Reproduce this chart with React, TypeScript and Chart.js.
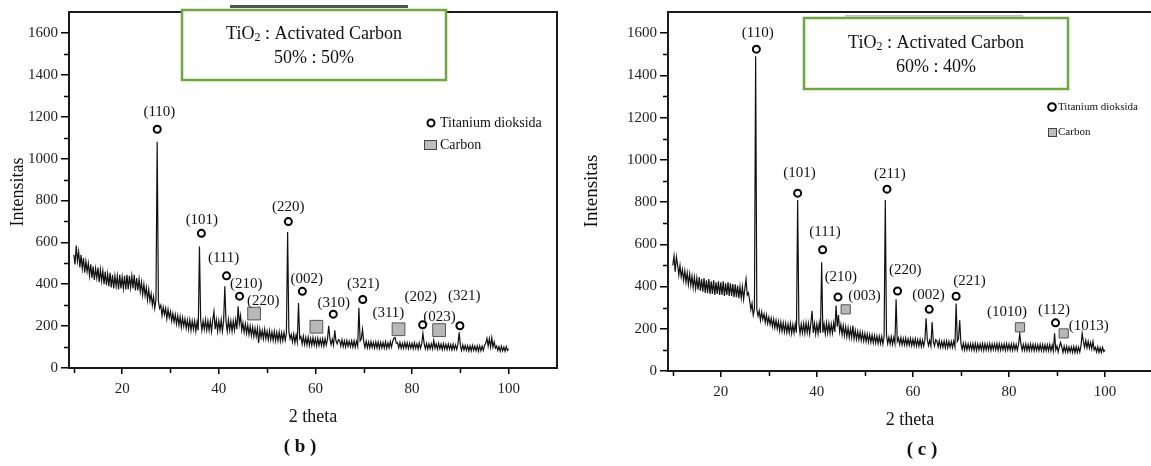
import React, { useEffect, useRef } from "react";
import { Chart, registerables } from "chart.js";

Chart.register(...registerables);

const FAMILY = '"Liberation Serif", "Times New Roman", serif';

// Diffraction scans: 2θ from X_START in steps of X_STEP
const X_START = 10;
const X_STEP = 0.25;

// (b) TiO2 : Activated Carbon 50% : 50%
const LEFT_Y = [
  540, 495, 585, 510,
  555, 480, 540, 475,
  525, 455, 510, 460,
  500, 440, 495, 430,
  485, 420, 475, 430,
  480, 410, 470, 415,
  465, 400, 460, 395,
  450, 390, 455, 385,
  445, 380, 440, 390,
  440, 375, 445, 380,
  435, 380, 440, 375,
  445, 375, 440, 385,
  440, 380, 445, 370,
  430, 370, 425, 365,
  410, 350, 400, 345,
  385, 325, 375, 320,
  355, 300, 340, 285,
  325, 1080, 320, 285,
  300, 250, 290, 255,
  285, 235, 280, 240,
  270, 225, 260, 220,
  255, 210, 250, 205,
  245, 195, 240, 200,
  235, 190, 230, 185,
  230, 180, 225, 185,
  225, 175, 220, 180,
  580, 230, 180, 225,
  185, 230, 180, 225,
  180, 225, 175, 230,
  270, 185, 230, 175,
  225, 180, 230, 175,
  225, 390, 220, 175,
  230, 180, 225, 175,
  225, 180, 230, 185,
  295, 210, 250, 180,
  215, 170, 210, 165,
  205, 160, 200, 155,
  195, 150, 190, 150,
  190, 120, 185, 145,
  180, 140, 185, 140,
  175, 135, 178, 135,
  172, 132, 175, 130,
  170, 130, 172, 128,
  168, 130, 170, 132,
  165, 650, 175, 140,
  160, 125, 162, 120,
  158, 125, 310, 140,
  150, 115, 152, 112,
  145, 110, 148, 108,
  142, 108, 145, 110,
  140, 105, 142, 108,
  138, 108, 140, 105,
  140, 110, 138, 202,
  140, 112, 138, 110,
  180, 130, 115, 135,
  132, 105, 135, 102,
  130, 100, 132, 104,
  128, 102, 130, 100,
  130, 100, 128, 104,
  288, 130, 140, 185,
  125, 98, 128, 96,
  124, 96, 126, 98,
  122, 95, 125, 96,
  124, 94, 122, 96,
  122, 95, 125, 94,
  120, 96, 126, 100,
  128, 142, 145, 118,
  120, 95, 122, 94,
  118, 94, 122, 95,
  120, 92, 118, 95,
  118, 92, 121, 94,
  116, 90, 120, 94,
  115, 165, 118, 92,
  117, 90, 115, 92,
  116, 92, 132, 95,
  115, 90, 118, 92,
  114, 88, 116, 90,
  113, 88, 115, 90,
  112, 86, 114, 88,
  110, 88, 114, 170,
  108, 84, 110, 86,
  108, 84, 106, 82,
  106, 82, 108, 84,
  105, 82, 106, 80,
  106, 82, 104, 84,
  108, 118, 142, 105,
  140, 100, 145, 100,
  125, 95, 105, 84,
  102, 80, 104, 82,
  100, 80, 102, 84,
  92,
];

// (c) TiO2 : Activated Carbon 60% : 40%
const RIGHT_Y = [
  500, 545, 470, 540,
  505, 455, 500, 445,
  480, 430, 475, 420,
  465, 410, 460, 405,
  450, 395, 445, 390,
  440, 385, 445, 380,
  435, 375, 440, 370,
  430, 370, 435, 365,
  425, 365, 430, 360,
  420, 365, 425, 360,
  420, 360, 425, 355,
  415, 360, 420, 355,
  415, 355, 412, 350,
  410, 350, 405, 345,
  400, 345, 398, 340,
  390, 435, 360, 370,
  335, 290, 320, 265,
  295, 1490, 290, 260,
  285, 240, 280, 245,
  270, 230, 265, 225,
  255, 220, 250, 210,
  245, 205, 240, 200,
  235, 190, 232, 188,
  228, 185, 225, 182,
  222, 180, 225, 178,
  220, 180, 222, 182,
  810, 225, 178, 222,
  180, 225, 178, 228,
  182, 225, 176, 228,
  285, 180, 225, 176,
  222, 178, 228, 180,
  515, 182, 222, 176,
  228, 180, 225, 178,
  222, 180, 228, 185,
  310, 210, 265, 185,
  220, 172, 215, 168,
  210, 162, 205, 158,
  200, 158, 215, 152,
  192, 150, 188, 148,
  185, 145, 182, 142,
  178, 140, 176, 138,
  172, 136, 170, 134,
  168, 132, 166, 130,
  165, 130, 164, 128,
  162, 810, 170, 130,
  160, 128, 162, 126,
  158, 130, 340, 140,
  156, 126, 158, 124,
  154, 124, 156, 122,
  152, 122, 154, 120,
  150, 120, 152, 118,
  148, 118, 150, 116,
  146, 118, 148, 250,
  148, 120, 145, 118,
  232, 140, 118, 148,
  142, 114, 144, 112,
  140, 112, 142, 110,
  142, 110, 140, 112,
  140, 112, 142, 115,
  320, 140, 152, 240,
  130, 102, 132, 100,
  130, 100, 128, 102,
  128, 100, 130, 98,
  130, 98, 128, 100,
  128, 100, 130, 98,
  129, 99, 128, 100,
  130, 98, 128, 101,
  128, 100, 130, 98,
  129, 99, 127, 100,
  128, 98, 130, 100,
  127, 99, 128, 98,
  128, 100, 126, 98,
  126, 178, 128, 98,
  126, 98, 128, 97,
  125, 97, 127, 98,
  126, 96, 125, 98,
  124, 96, 126, 97,
  125, 95, 124, 96,
  124, 96, 125, 95,
  122, 95, 178, 100,
  118, 90, 115, 135,
  115, 88, 117, 90,
  116, 88, 114, 90,
  114, 88, 116, 87,
  115, 88, 113, 90,
  118, 178, 140, 112,
  145, 110, 140, 108,
  135, 105, 140, 100,
  112, 90, 114, 88,
  110, 88, 112, 92,
  100,
];

const X_MIN = 9;
const X_MAX = 110;
const Y_MIN = 0;
const Y_MAX = 1700;
const X_TICKS = [20, 40, 60, 80, 100];
const X_MINOR = [10, 30, 50, 70, 90];
const Y_TICKS = [0, 200, 400, 600, 800, 1000, 1200, 1400, 1600];
const Y_MINOR = [100, 300, 500, 700, 900, 1100, 1300, 1500];

// Phase markers [2θ, intensity]
const LEFT_TIO2 = [
  [27.26, 1140], [36.4, 643], [41.6, 440], [44.3, 343], [54.4, 699],
  [57.3, 366], [63.7, 257], [69.8, 327], [82.2, 206], [89.9, 202],
];
const LEFT_CARBON = [[47.3, 260], [60.2, 197], [77.2, 185], [85.6, 181]];
const LEFT_LABELS: [string, number, number][] = [
  ["(110)", 27.7, 1223], ["(101)", 36.5, 707], ["(111)", 41.0, 526],
  ["(210)", 45.7, 400], ["(220)", 49.2, 322], ["(220)", 54.4, 770],
  ["(002)", 58.2, 425], ["(310)", 63.8, 311], ["(321)", 69.9, 402],
  ["(311)", 75.1, 260], ["(202)", 81.8, 338], ["(023)", 85.7, 244],
  ["(321)", 90.8, 342],
];

const RIGHT_TIO2 = [
  [27.4, 1524], [36.0, 842], [41.2, 574], [44.4, 350], [54.6, 861],
  [56.8, 379], [63.4, 292], [69.0, 354], [89.7, 228],
];
const RIGHT_CARBON = [[46.0, 292], [82.3, 207], [91.4, 178]];
const RIGHT_LABELS: [string, number, number][] = [
  ["(110)", 27.7, 1600], ["(101)", 36.4, 937], ["(111)", 41.7, 660],
  ["(210)", 45.0, 445], ["(003)", 49.9, 357], ["(211)", 55.2, 932],
  ["(220)", 58.4, 476], ["(002)", 63.25, 358], ["(221)", 71.8, 426],
  ["(1010)", 79.6, 277], ["(112)", 89.4, 288], ["(1013)", 96.6, 212],
];

const BOX_TITLE = ["TiO", "2", " : Activated Carbon"];
const LEFT_RATIO = "50% : 50%";
const RIGHT_RATIO = "60% : 40%";
const LEGEND_TIO2 = "Titanium dioksida";
const LEGEND_CARBON = "Carbon";
const Y_TITLE = "Intensitas";
const X_TITLE = "2 theta";
const LEFT_TAG = "( b )";
const RIGHT_TAG = "( c )";

type Panel = {
  ys: number[];
  tio2: number[][];
  carbon: number[][];
  labels: [string, number, number][];
  ratio: string;
  tag: string;
  width: number;
  top: number;
  padRight: number;
  yW: number;
  xH: number;
  circleR: number;
  rectR: number;
  box: { x: number; y: number; w: number; h: number; cx: number; l1: number; l2: number; size: number };
  legend: { cx: number; cy: number; sx: number; sy: number; sw: number; sh: number; tx: number; ty1: number; ty2: number; size: number; r: number };
  yTitle: { x: number; y: number; size: number };
  xTitle: { x: number; y: number; size: number };
  tagPos: { x: number; y: number; size: number };
  strip: { x: number; y: number; w: number; h: number; color: string };
};

function decor(p: Panel) {
  return {
    id: "decor",
    afterDatasetsDraw(chart: any) {
      const ctx = chart.ctx as CanvasRenderingContext2D;
      const xs = chart.scales.x;
      const ys = chart.scales.y;
      ctx.save();
      ctx.fillStyle = "#111";
      ctx.font = `15px ${FAMILY}`;
      ctx.textAlign = "center";
      ctx.textBaseline = "middle";
      for (const [t, x, y] of p.labels) {
        ctx.fillText(t, xs.getPixelForValue(x), ys.getPixelForValue(y));
      }
      ctx.restore();
    },
    afterDraw(chart: any) {
      const ctx = chart.ctx as CanvasRenderingContext2D;
      const { left, right, top, bottom } = chart.chartArea;
      const xs = chart.scales.x;
      const ys = chart.scales.y;
      ctx.save();
      // frame
      ctx.strokeStyle = "#1a1a1a";
      ctx.lineWidth = 2;
      ctx.strokeRect(left, top, right - left, bottom - top);
      ctx.fillStyle = p.strip.color;
      ctx.fillRect(p.strip.x, p.strip.y, p.strip.w, p.strip.h);
      // minor ticks
      ctx.strokeStyle = "#000";
      ctx.lineWidth = 1.5;
      ctx.beginPath();
      for (const v of Y_MINOR) {
        const py = Math.round(ys.getPixelForValue(v)) + 0.5;
        ctx.moveTo(left, py);
        ctx.lineTo(left - 5, py);
      }
      for (const v of X_MINOR) {
        const px = Math.round(xs.getPixelForValue(v)) + 0.5;
        ctx.moveTo(px, bottom);
        ctx.lineTo(px, bottom + 5);
      }
      ctx.stroke();

      // green box
      const b = p.box;
      ctx.fillStyle = "#fff";
      ctx.fillRect(b.x, b.y, b.w, b.h);
      ctx.strokeStyle = "#6ca83c";
      ctx.lineWidth = 2.5;
      ctx.strokeRect(b.x, b.y, b.w, b.h);
      ctx.fillStyle = "#111";
      ctx.textBaseline = "middle";
      const big = `${b.size}px ${FAMILY}`;
      const small = `${Math.round(b.size * 0.68)}px ${FAMILY}`;
      ctx.font = big;
      const w0 = ctx.measureText(BOX_TITLE[0]).width;
      const w2 = ctx.measureText(BOX_TITLE[2]).width;
      ctx.font = small;
      const w1 = ctx.measureText(BOX_TITLE[1]).width;
      let sx = b.cx - (w0 + w1 + w2) / 2;
      ctx.textAlign = "left";
      ctx.font = big;
      ctx.fillText(BOX_TITLE[0], sx, b.l1);
      sx += w0;
      ctx.font = small;
      ctx.fillText(BOX_TITLE[1], sx, b.l1 + b.size * 0.2);
      sx += w1;
      ctx.font = big;
      ctx.fillText(BOX_TITLE[2], sx, b.l1);
      ctx.textAlign = "center";
      ctx.fillText(p.ratio, b.cx, b.l2);

      // legend
      const L = p.legend;
      ctx.strokeStyle = "#000";
      ctx.lineWidth = 2;
      ctx.beginPath();
      ctx.arc(L.cx, L.cy, L.r, 0, Math.PI * 2);
      ctx.stroke();
      ctx.fillStyle = "#bdbdbd";
      ctx.fillRect(L.sx, L.sy, L.sw, L.sh);
      ctx.strokeStyle = "#444";
      ctx.lineWidth = 1;
      ctx.strokeRect(L.sx + 0.5, L.sy + 0.5, L.sw - 1, L.sh - 1);
      ctx.fillStyle = "#111";
      ctx.font = `${L.size}px ${FAMILY}`;
      ctx.textAlign = "left";
      ctx.fillText(LEGEND_TIO2, L.tx, L.ty1);
      ctx.fillText(LEGEND_CARBON, L.tx, L.ty2);

      // axis titles
      ctx.textAlign = "center";
      ctx.font = `${p.xTitle.size}px ${FAMILY}`;
      ctx.fillText(X_TITLE, p.xTitle.x, p.xTitle.y);
      ctx.font = `bold ${p.tagPos.size}px ${FAMILY}`;
      ctx.fillText(p.tag, p.tagPos.x, p.tagPos.y);
      ctx.save();
      ctx.translate(p.yTitle.x, p.yTitle.y);
      ctx.rotate(-Math.PI / 2);
      ctx.font = `${p.yTitle.size}px ${FAMILY}`;
      ctx.fillText(Y_TITLE, 0, 0);
      ctx.restore();
      ctx.restore();
    },
  };
}

function makeConfig(p: Panel): any {
  const tickFont = { family: FAMILY, size: 15 };
  return {
    type: "line",
    data: {
      datasets: [
        {
          data: p.tio2.map(([x, y]) => ({ x, y })),
          showLine: false,
          pointStyle: "circle",
          pointRadius: p.circleR,
          borderWidth: 2,
          borderColor: "#000",
          backgroundColor: "#fff",
          order: 1,
        },
        {
          data: p.carbon.map(([x, y]) => ({ x, y })),
          showLine: false,
          pointStyle: "rect",
          pointRadius: p.rectR,
          borderWidth: 1,
          borderColor: "#555",
          backgroundColor: "#b8b8b8",
          order: 2,
        },
        {
          data: p.ys.map((y, i) => ({ x: X_START + i * X_STEP, y })),
          borderColor: "#111",
          borderWidth: 1.2,
          pointRadius: 0,
          tension: 0,
          fill: false,
          order: 3,
        },
      ],
    },
    options: {
      animation: false,
      responsive: false,
      events: [],
      layout: { autoPadding: false, padding: { left: 0, top: p.top, right: p.padRight, bottom: 0 } },
      plugins: { legend: { display: false }, tooltip: { enabled: false }, title: { display: false } },
      scales: {
        x: {
          type: "linear",
          min: X_MIN,
          max: X_MAX,
          afterBuildTicks: (s: any) => {
            s.ticks = X_TICKS.map((v) => ({ value: v }));
          },
          afterFit: (s: any) => {
            s.height = p.xH;
          },
          grid: { display: true, drawOnChartArea: false, drawTicks: true, tickLength: 6, color: "#000", lineWidth: 1.5 },
          border: { display: true, color: "#000", width: 2 },
          ticks: { font: tickFont, color: "#222", padding: 6, maxRotation: 0, autoSkip: false, callback: (v: any) => String(v) },
        },
        y: {
          type: "linear",
          min: Y_MIN,
          max: Y_MAX,
          afterBuildTicks: (s: any) => {
            s.ticks = Y_TICKS.map((v) => ({ value: v }));
          },
          afterFit: (s: any) => {
            s.width = p.yW;
          },
          grid: { display: true, drawOnChartArea: false, drawTicks: true, tickLength: 8, color: "#000", lineWidth: 1.5 },
          border: { display: true, color: "#000", width: 2 },
          ticks: { font: tickFont, color: "#222", padding: 3, autoSkip: false, callback: (v: any) => String(v) },
        },
      },
    },
    plugins: [decor(p)],
  };
}

const LEFT_PANEL: Panel = {
  ys: LEFT_Y,
  tio2: LEFT_TIO2,
  carbon: LEFT_CARBON,
  labels: LEFT_LABELS,
  ratio: LEFT_RATIO,
  tag: LEFT_TAG,
  width: 575,
  top: 6,
  padRight: 18,
  yW: 69,
  xH: 98,
  circleR: 3.5,
  rectR: 9,
  box: { x: 182, y: 10, w: 264, h: 70, cx: 314, l1: 34, l2: 58, size: 18 },
  legend: { cx: 431, cy: 123, sx: 424, sy: 140, sw: 13, sh: 10, tx: 440, ty1: 123, ty2: 145, size: 14, r: 3.5 },
  yTitle: { x: 18, y: 192, size: 18 },
  xTitle: { x: 313, y: 417, size: 18 },
  tagPos: { x: 300, y: 447, size: 19 },
  strip: { x: 230, y: 5, w: 178, h: 3, color: "#555" },
};

const RIGHT_PANEL: Panel = {
  ys: RIGHT_Y,
  tio2: RIGHT_TIO2,
  carbon: RIGHT_CARBON,
  labels: RIGHT_LABELS,
  ratio: RIGHT_RATIO,
  tag: RIGHT_TAG,
  width: 581,
  top: 10,
  padRight: 4,
  yW: 92,
  xH: 95,
  circleR: 3.5,
  rectR: 6.5,
  box: { x: 228, y: 18, w: 264, h: 71, cx: 360, l1: 43, l2: 67, size: 18 },
  legend: { cx: 476, cy: 107, sx: 472, sy: 128, sw: 9, sh: 9, tx: 482, ty1: 107, ty2: 132, size: 11, r: 3.8 },
  yTitle: { x: 16, y: 191, size: 19 },
  xTitle: { x: 334, y: 420, size: 18 },
  tagPos: { x: 346, y: 450, size: 19 },
  strip: { x: 269, y: 15, w: 178, h: 1.5, color: "#bbb" },
};

function PanelChart({ panel, left }: { panel: Panel; left: number }) {
  const ref = useRef<HTMLCanvasElement | null>(null);
  useEffect(() => {
    if (!ref.current) return;
    const chart = new Chart(ref.current, makeConfig(panel));
    return () => chart.destroy();
  }, [panel]);
  return (
    <canvas
      ref={ref}
      width={panel.width}
      height={466}
      style={{ position: "absolute", left, top: 0, width: panel.width, height: 466 }}
    />
  );
}

export default function App() {
  return (
    <div
      style={{
        position: "absolute",
        left: 0,
        top: 0,
        width: 1151,
        height: 466,
        overflow: "hidden",
        background: "#fff",
      }}
    >
      <PanelChart panel={LEFT_PANEL} left={0} />
      <PanelChart panel={RIGHT_PANEL} left={576} />
    </div>
  );
}
